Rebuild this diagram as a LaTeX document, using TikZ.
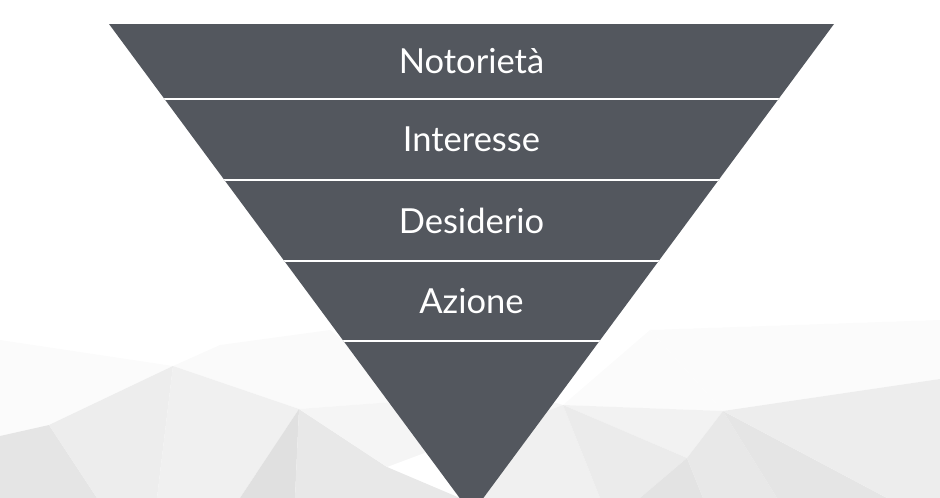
\documentclass[tikz,border=0pt]{standalone}
\usepackage{fontspec}
\setmainfont{Lato}
\usepackage{tikz}
\usetikzlibrary{calc}
\usetikzlibrary{positioning}
\definecolor{funnelgray}{HTML}{53575E}
\tikzset{stage/.style = {draw=none, align=center, inner sep = 1, text=white, font=\fontsize{34.5}{38}\selectfont}}
\tikzset{sep/.style = {draw=white, line width=2pt}}
\tikzset{facet/.style = {draw=none}}

\begin{document}
\begin{tikzpicture}[x=1pt, y=-1pt]
\useasboundingbox (0,0) rectangle (940,498);
% low poly background, left
\fill [facet, fill=black!1.5] (0,340) -- (173,366) -- (49,425) -- (0,436) -- cycle;
\fill [facet, fill=black!2] (173,366) -- (220,345) -- (330,330) -- (420,400) -- (299,409) -- cycle;
\fill [facet, fill=black!10] (0,436) -- (49,425) -- (97,498) -- (0,498) -- cycle;
\fill [facet, fill=black!7] (49,425) -- (173,366) -- (157,498) -- (97,498) -- cycle;
\fill [facet, fill=black!6] (173,366) -- (299,409) -- (240,498) -- (157,498) -- cycle;
\fill [facet, fill=black!12] (299,409) -- (295,498) -- (240,498) -- cycle;
\fill [facet, fill=black!9] (299,409) -- (387,467) -- (460,498) -- (295,498) -- cycle;
\fill [facet, fill=black!4] (299,409) -- (420,400) -- (427,452) -- (387,467) -- cycle;
% low poly background, right
\fill [facet, fill=black!3] (480,380) -- (563,405) -- (470,440) -- cycle;
\fill [facet, fill=black!1.5] (563,405) -- (650,330) -- (723,411) -- cycle;
\fill [facet, fill=black!1.5] (723,411) -- (650,330) -- (940,320) -- (940,379) -- cycle;
\fill [facet, fill=black!5] (563,405) -- (723,411) -- (687,458) -- cycle;
\fill [facet, fill=black!6] (470,440) -- (563,405) -- (600,498) -- (470,498) -- cycle;
\fill [facet, fill=black!8] (563,405) -- (687,458) -- (640,498) -- (600,498) -- cycle;
\fill [facet, fill=black!11] (687,458) -- (703,498) -- (640,498) -- cycle;
\fill [facet, fill=black!9] (687,458) -- (723,411) -- (777,498) -- (703,498) -- cycle;
\fill [facet, fill=black!10] (723,411) -- (887,498) -- (777,498) -- cycle;
\fill [facet, fill=black!7] (723,411) -- (940,379) -- (940,498) -- (887,498) -- cycle;

% funnel
\coordinate (TL) at (109,24);
\coordinate (TR) at (834,24);
\coordinate (Tip) at (471.5,514);
\fill [funnelgray] (TL) -- (TR) -- (Tip) -- cycle;
\begin{scope}
\clip (TL) -- (TR) -- (Tip) -- cycle;
\draw [sep] (100,99) -- (840,99);
\draw [sep] (100,180) -- (840,180);
\draw [sep] (100,261) -- (840,261);
\draw [sep] (100,341) -- (840,341);
\end{scope}

\node [stage] (N) at (471.5,61.5) {Notorietà};
\node [stage] (I) at (471.5,139.5) {Interesse};
\node [stage] (D) at (471.5,220.5) {Desiderio};
\node [stage] (A) at (471.5,301) {Azione};
\end{tikzpicture}
\end{document}
